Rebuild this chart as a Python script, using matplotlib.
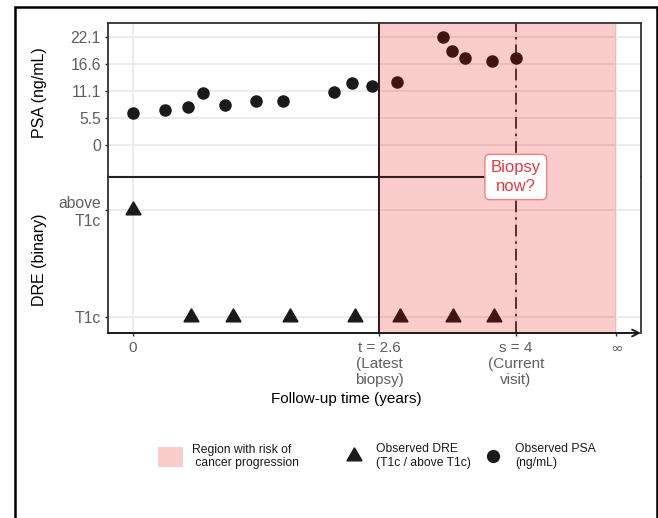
import matplotlib
matplotlib.use('Agg')
import matplotlib.pyplot as plt
from matplotlib.patches import Patch, Rectangle
from matplotlib.lines import Line2D
from matplotlib.transforms import blended_transform_factory

plt.rcParams['font.family'] = ['Liberation Sans', 'DejaVu Sans']
plt.rcParams['mathtext.fontset'] = 'dejavusans'

# ---------------- data ----------------
psa_time = [0.0, 0.33, 0.57, 0.73, 0.96, 1.29, 1.57, 2.10, 2.29, 2.50, 2.76,
            3.24, 3.33, 3.47, 3.75, 4.0]
psa_value = [6.6, 7.1, 7.9, 10.7, 8.2, 9.1, 9.1, 10.8, 12.8, 12.1, 12.9,
             22.2, 19.2, 17.9, 17.3, 17.9]
dre_time = [0.0, 0.61, 1.04, 1.64, 2.32, 2.79, 3.34, 3.77]
dre_value = [1, 0, 0, 0, 0, 0, 0, 0]

latest_biopsy = 2.57
current_visit = 4.0
horizon = 5.05

x_ticks = [0, latest_biopsy, current_visit, horizon]
x_ticklabels = ['0', 't = 2.6\n(Latest\nbiopsy)', 's = 4\n(Current\nvisit)', r'$\infty$']
psa_ticks = [0, 5.5, 11.1, 16.6, 22.1]
psa_ticklabels = ['0', '5.5', '11.1', '16.6', '22.1']
dre_ticks = [0, 1]
dre_ticklabels = ['T1c', 'above\nT1c']

legend_labels = ['Region with risk of\n cancer progression',
                 'Observed DRE\n(T1c / above T1c)',
                 'Observed PSA\n(ng/mL)']

# ---------------- styling ----------------
W, H = 658, 518
PINK = '#E60000'
PINK_ALPHA = 0.2
DARK = '#1a1a1a'
BORDER = '#333333'
GRID = '#EBEBEB'
TICKC = '#5f5f5f'
RED_TXT = '#E8383D'

fig = plt.figure(figsize=(W / 100, H / 100), dpi=100)
fig.patch.set_facecolor('white')

L, R = 108 / W, 641 / W
ax_top = fig.add_axes([L, (H - 177) / H, R - L, 154 / H])
ax_bot = fig.add_axes([L, (H - 333) / H, R - L, 156 / H])

xlim = (-0.261, 5.308)
for ax in (ax_top, ax_bot):
    ax.set_xlim(*xlim)
    ax.set_axisbelow(True)
    ax.grid(True, color=GRID, lw=1.3)
    ax.set_xticks(x_ticks)
    ax.axvspan(latest_biopsy, horizon, color=PINK, alpha=PINK_ALPHA, lw=0, zorder=2)
    ax.axvline(latest_biopsy, color=DARK, lw=1.4, zorder=1.6)
    ax.axvline(current_visit, color=DARK, lw=1.2, ls=(0, (7, 3, 1.5, 3)), zorder=1.6)
    for s in ('left', 'right'):
        ax.spines[s].set_color(BORDER)
        ax.spines[s].set_linewidth(1.3)
    ax.tick_params(axis='y', length=2.2, width=1, color=BORDER, labelsize=11.3,
                   labelcolor=TICKC, pad=3)

# top panel
ax_top.set_ylim(-6.57, 25.04)
ax_top.plot(psa_time, psa_value, 'o', color=DARK, ms=8, zorder=1.5)
ax_top.set_yticks(psa_ticks, psa_ticklabels)
ax_top.tick_params(axis='x', length=0, labelbottom=False)
ax_top.spines['top'].set_color(BORDER)
ax_top.spines['top'].set_linewidth(1.3)
ax_top.spines['bottom'].set_visible(False)
ax_top.set_ylabel('PSA (ng/mL)', fontsize=11.5, va='center', color='black')
ax_top.yaxis.set_label_coords(-0.1276, 0.545)

# bottom panel
ax_bot.set_ylim(-0.150, 1.308)
ax_bot.plot(dre_time, dre_value, marker=(3, 0, 0), ls='none', ms=12.5,
            color=DARK, zorder=1.5)
ax_bot.set_yticks(dre_ticks, dre_ticklabels)
ax_bot.set_xticks(x_ticks, x_ticklabels)
ax_bot.tick_params(axis='x', length=2.2, width=1, color=BORDER, labelsize=11,
                   labelcolor=TICKC, pad=3.5)
ax_bot.spines['top'].set_visible(False)
ax_bot.spines['bottom'].set_visible(False)
ax_bot.set_ylabel('DRE (binary)', fontsize=11.5, va='center', color='black')
ax_bot.yaxis.set_label_coords(-0.1276, 0.468)
ax_bot.set_xlabel('Follow-up time (years)', fontsize=11, color='black')
ax_bot.xaxis.set_label_coords(0.4465, -0.375)

# divider between panels (stops at the label)
ax_bot.axhline(ax_bot.get_ylim()[1], xmin=0,
               xmax=(current_visit - xlim[0]) / (xlim[1] - xlim[0]),
               color='#222222', lw=1.5, clip_on=False, zorder=1.7)

# x axis with arrow
ax_bot.annotate('', xy=(1.0, 0), xytext=(0, 0), xycoords='axes fraction',
                textcoords='axes fraction', annotation_clip=False,
                arrowprops=dict(arrowstyle='->', color=DARK, lw=1.4,
                                shrinkA=0, shrinkB=0, mutation_scale=12))

# label
trans = blended_transform_factory(ax_bot.transData, ax_bot.transAxes)
ax_bot.text(current_visit, 1.0, 'Biopsy\nnow?', transform=trans, ha='center',
            va='center', color=RED_TXT, fontsize=12, linespacing=1.3,
            bbox=dict(boxstyle='round,pad=0.35,rounding_size=0.3', fc='white',
                      ec='#F28080', lw=1), zorder=6, clip_on=False)

# outer frame
fig.add_artist(Rectangle((15 / W, -0.05), (657 - 15) / W, (H - 7) / H + 0.05,
                         transform=fig.transFigure, fill=False, ec='black', lw=1.8))

# legends
common = dict(loc='center left', frameon=False, fontsize=8.7, borderpad=0,
              borderaxespad=0, labelcolor=DARK)
fig.legend(handles=[Patch(facecolor=PINK, alpha=PINK_ALPHA, edgecolor='none')],
           labels=[legend_labels[0]], bbox_to_anchor=(158 / W, 1 - 456.5 / H),
           handlelength=2.07, handleheight=2.23, handletextpad=0.75, **common)
fig.legend(handles=[Line2D([], [], marker=(3, 0, 0), ls='none', ms=12.5, color=DARK)],
           labels=[legend_labels[1]], bbox_to_anchor=(343 / W, 1 - 456 / H),
           handlelength=1.84, handletextpad=0.92, **common)
fig.legend(handles=[Line2D([], [], marker='o', ls='none', ms=8.5, color=DARK)],
           labels=[legend_labels[2]], bbox_to_anchor=(482 / W, 1 - 456 / H),
           handlelength=1.84, handletextpad=0.92, **common)

fig.savefig('out.png', dpi=100, facecolor='white')
